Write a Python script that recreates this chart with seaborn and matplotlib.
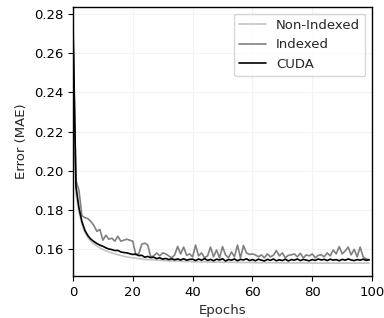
import numpy as np
import pandas as pd
import seaborn as sns
import matplotlib
matplotlib.use("Agg")
import matplotlib.pyplot as plt

# values (epochs 0..99)
epochs = list(range(100))

non_indexed = [
    0.2720, 0.1880, 0.1790, 0.1725, 0.1685, 0.1658, 0.1640, 0.1626, 0.1615, 0.1606,
    0.1598, 0.1591, 0.1585, 0.1580, 0.1575, 0.1571, 0.1567, 0.1563, 0.1560, 0.1557,
    0.1555, 0.1553, 0.1551, 0.1549, 0.1547, 0.1546, 0.1545, 0.1544, 0.1543, 0.1542,
    0.1541, 0.1540, 0.1539, 0.1539, 0.1538, 0.1538, 0.1537, 0.1537, 0.1536, 0.1536,
    0.1535, 0.1535, 0.1535, 0.1534, 0.1534, 0.1534, 0.1533, 0.1533, 0.1533, 0.1533,
    0.1532, 0.1532, 0.1532, 0.1532, 0.1532, 0.1531, 0.1531, 0.1531, 0.1531, 0.1531,
    0.1531, 0.1530, 0.1530, 0.1530, 0.1530, 0.1530, 0.1530, 0.1530, 0.1530, 0.1529,
    0.1529, 0.1529, 0.1529, 0.1529, 0.1529, 0.1529, 0.1529, 0.1529, 0.1529, 0.1529,
    0.1528, 0.1528, 0.1528, 0.1528, 0.1528, 0.1528, 0.1528, 0.1528, 0.1528, 0.1528,
    0.1528, 0.1528, 0.1528, 0.1528, 0.1528, 0.1528, 0.1528, 0.1528, 0.1528, 0.1528,
]

indexed = [
    0.2680, 0.1950, 0.1900, 0.1770, 0.1760, 0.1755, 0.1740, 0.1720, 0.1690, 0.1700,
    0.1645, 0.1670, 0.1650, 0.1655, 0.1640, 0.1665, 0.1640, 0.1645, 0.1650, 0.1645,
    0.1640, 0.1570, 0.1575, 0.1625, 0.1630, 0.1620, 0.1560, 0.1565, 0.1580, 0.1565,
    0.1580, 0.1575, 0.1565, 0.1555, 0.1570, 0.1613, 0.1575, 0.1610, 0.1568, 0.1575,
    0.1560, 0.1620, 0.1565, 0.1580, 0.1555, 0.1565, 0.1610, 0.1560, 0.1595, 0.1555,
    0.1612, 0.1570, 0.1555, 0.1585, 0.1560, 0.1620, 0.1555, 0.1618, 0.1580, 0.1572,
    0.1575, 0.1570, 0.1560, 0.1570, 0.1555, 0.1575, 0.1560, 0.1568, 0.1592, 0.1565,
    0.1580, 0.1555, 0.1568, 0.1570, 0.1575, 0.1560, 0.1578, 0.1555, 0.1570, 0.1565,
    0.1575, 0.1555, 0.1568, 0.1570, 0.1560, 0.1580, 0.1565, 0.1595, 0.1575, 0.1612,
    0.1575, 0.1590, 0.1610, 0.1570, 0.1598, 0.1560, 0.1610, 0.1560, 0.1550, 0.1545,
]

cuda = [
    0.2775, 0.1920, 0.1810, 0.1740, 0.1695, 0.1668, 0.1650, 0.1638, 0.1628, 0.1620,
    0.1614, 0.1606, 0.1600, 0.1597, 0.1592, 0.1593, 0.1585, 0.1582, 0.1580, 0.1576,
    0.1572, 0.1574, 0.1566, 0.1568, 0.1558, 0.1562, 0.1556, 0.1558, 0.1551, 0.1555,
    0.1548, 0.1552, 0.1546, 0.1550, 0.1545, 0.1549, 0.1544, 0.1550, 0.1543, 0.1547,
    0.1548, 0.1541, 0.1549, 0.1543, 0.1551, 0.1542, 0.1547, 0.1540, 0.1548, 0.1544,
    0.1550, 0.1539, 0.1546, 0.1543, 0.1549, 0.1540, 0.1547, 0.1544, 0.1550, 0.1541,
    0.1546, 0.1540, 0.1548, 0.1543, 0.1539, 0.1547, 0.1542, 0.1549, 0.1540, 0.1545,
    0.1541, 0.1548, 0.1539, 0.1546, 0.1543, 0.1549, 0.1541, 0.1547, 0.1543, 0.1540,
    0.1546, 0.1542, 0.1549, 0.1544, 0.1547, 0.1541, 0.1548, 0.1543, 0.1546, 0.1540,
    0.1547, 0.1543, 0.1549, 0.1544, 0.1541, 0.1546, 0.1543, 0.1548, 0.1542, 0.1545,
]

series = ["Non-Indexed", "Indexed", "CUDA"]
colors = ["#c4c4c4", "#808080", "#000000"]

df = pd.DataFrame({
    "Epochs": epochs * 3,
    "Error (MAE)": non_indexed + indexed + cuda,
    "Method": [series[0]] * 100 + [series[1]] * 100 + [series[2]] * 100,
})

sns.set_style("ticks", {
    "axes.grid": True,
    "grid.color": "#f3f3f3",
    "axes.edgecolor": "black",
})
plt.rcParams["font.family"] = ["DejaVu Sans"]

fig, ax = plt.subplots(figsize=(3.84, 3.18), dpi=100)
fig.subplots_adjust(left=0.19, right=0.969, bottom=0.132, top=0.978)

sns.lineplot(data=df, x="Epochs", y="Error (MAE)", hue="Method",
             hue_order=series, palette=colors, linewidth=1.2, ax=ax)

ax.set_xlim(0, 100)
ax.set_ylim(0.1462, 0.2836)
ax.set_yticks([0.16, 0.18, 0.20, 0.22, 0.24, 0.26, 0.28])
ax.tick_params(labelsize=9.5, length=3.5, width=0.8, colors="black")
ax.set_xlabel("Epochs", fontsize=9.5)
ax.set_ylabel("Error (MAE)", fontsize=9.5)
for sp in ax.spines.values():
    sp.set_linewidth(1.0)
    sp.set_color("black")
ax.grid(True, color="#f3f3f3", linewidth=0.8)

leg = ax.legend(loc="upper right", fontsize=9.5, frameon=True, title=None,
                handlelength=2.0)
leg.get_frame().set_edgecolor("#cccccc")

plt.savefig("out.png", dpi=100)
